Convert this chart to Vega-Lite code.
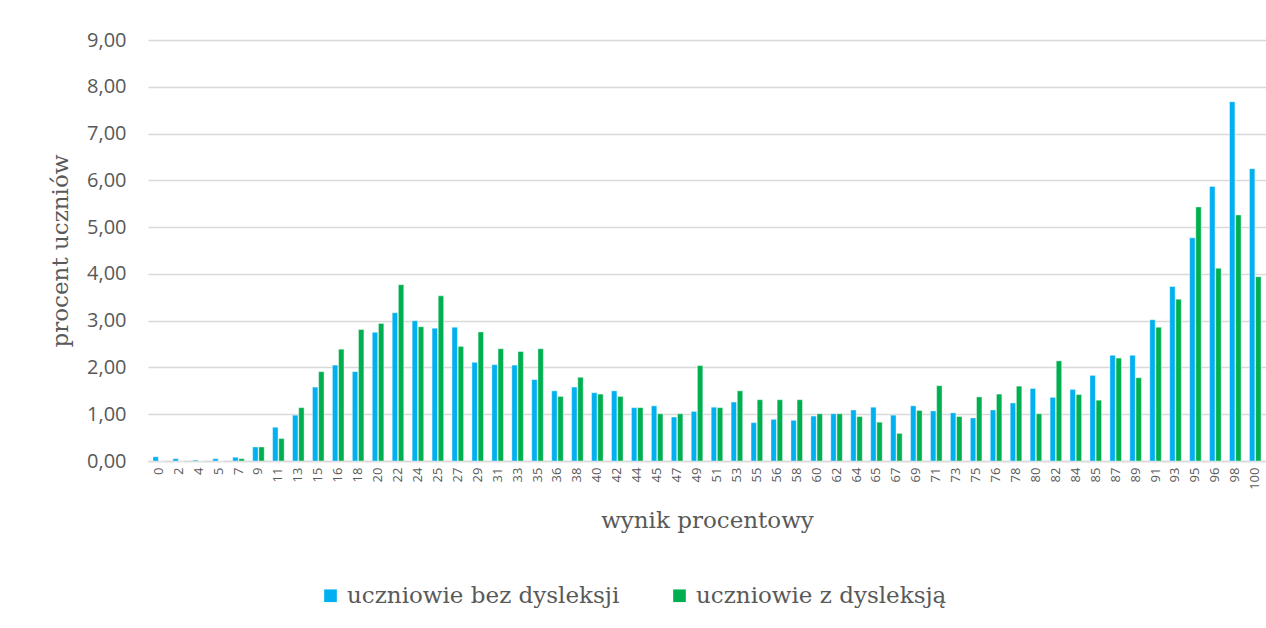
{
  "$schema": "https://vega.github.io/schema/vega-lite/v6.json",
  "autosize": "none",
  "width": 1118,
  "height": 421,
  "padding": {"left": 148, "top": 40, "right": 0, "bottom": 167},
  "background": "white",
  "data": {"values": [
    {"w":0,"b":0.09,"g":0},{"w":2,"b":0.05,"g":0},{"w":4,"b":0.02,"g":0},{"w":5,"b":0.05,"g":0},
    {"w":7,"b":0.08,"g":0.05},{"w":9,"b":0.30,"g":0.30},{"w":11,"b":0.72,"g":0.48},{"w":13,"b":0.98,"g":1.14},
    {"w":15,"b":1.58,"g":1.91},{"w":16,"b":2.05,"g":2.39},{"w":18,"b":1.91,"g":2.81},{"w":20,"b":2.75,"g":2.94},
    {"w":22,"b":3.17,"g":3.77},{"w":24,"b":3.00,"g":2.87},{"w":25,"b":2.84,"g":3.53},{"w":27,"b":2.86,"g":2.45},
    {"w":29,"b":2.11,"g":2.76},{"w":31,"b":2.06,"g":2.40},{"w":33,"b":2.05,"g":2.34},{"w":35,"b":1.74,"g":2.40},
    {"w":36,"b":1.50,"g":1.38},{"w":38,"b":1.58,"g":1.79},{"w":40,"b":1.46,"g":1.43},{"w":42,"b":1.50,"g":1.38},
    {"w":44,"b":1.14,"g":1.14},{"w":45,"b":1.18,"g":1.01},{"w":47,"b":0.94,"g":1.01},{"w":49,"b":1.06,"g":2.04},
    {"w":51,"b":1.15,"g":1.14},{"w":53,"b":1.26,"g":1.50},{"w":55,"b":0.82,"g":1.31},{"w":56,"b":0.89,"g":1.31},
    {"w":58,"b":0.87,"g":1.31},{"w":60,"b":0.96,"g":1.01},{"w":62,"b":1.01,"g":1.01},{"w":64,"b":1.09,"g":0.95},
    {"w":65,"b":1.15,"g":0.83},{"w":67,"b":0.98,"g":0.59},{"w":69,"b":1.18,"g":1.08},{"w":71,"b":1.07,"g":1.61},
    {"w":73,"b":1.03,"g":0.95},{"w":75,"b":0.92,"g":1.37},{"w":76,"b":1.09,"g":1.43},{"w":78,"b":1.24,"g":1.60},
    {"w":80,"b":1.55,"g":1.01},{"w":82,"b":1.36,"g":2.14},{"w":84,"b":1.53,"g":1.42},{"w":85,"b":1.83,"g":1.30},
    {"w":87,"b":2.26,"g":2.20},{"w":89,"b":2.26,"g":1.78},{"w":91,"b":3.02,"g":2.86},{"w":93,"b":3.73,"g":3.46},
    {"w":95,"b":4.77,"g":5.43},{"w":96,"b":5.87,"g":4.12},{"w":98,"b":7.68,"g":5.26},{"w":100,"b":6.25,"g":3.94}
  ]},
  "transform": [
    {"fold": ["b", "g"], "as": ["k", "procent"]},
    {"lookup": "k", "from": {"data": {"values": [
      {"k": "b", "grupa": "uczniowie bez dysleksji"},
      {"k": "g", "grupa": "uczniowie z dysleksją"}
    ]}, "key": "k", "fields": ["grupa"]}}
  ],
  "mark": {"type": "bar", "stroke": "white", "strokeWidth": 0.4},
  "encoding": {
    "x": {
      "field": "w", "type": "ordinal",
      "scale": {"paddingInner": 0.42, "paddingOuter": 0.25},
      "axis": {
        "title": "wynik procentowy",
        "titleFont": "DejaVu Serif", "titleFontSize": 23, "titleFontWeight": "normal", "titleColor": "#595959",
        "titlePadding": 20,
        "labelAngle": -90, "labelFont": "Open Sans", "labelFontSize": 13, "labelColor": "#595959",
        "labelPadding": 6, "ticks": false,
        "domainColor": "#d9d9d9", "domainWidth": 1.5
      }
    },
    "xOffset": {"field": "grupa", "type": "nominal", "scale": {"paddingInner": 0.12}},
    "y": {
      "field": "procent", "type": "quantitative",
      "scale": {"domain": [0, 9]},
      "axis": {
        "title": "procent uczniów",
        "titleFont": "DejaVu Serif", "titleFontSize": 23, "titleFontWeight": "normal", "titleColor": "#595959",
        "titlePadding": 14,
        "values": [0,1,2,3,4,5,6,7,8,9],
        "labelExpr": "replace(format(datum.value, '.2f'), '.', ',')",
        "labelFont": "Open Sans", "labelFontSize": 20, "labelColor": "#595959", "labelPadding": 22,
        "ticks": false, "domain": false,
        "gridColor": "#d9d9d9", "gridWidth": 1.5
      }
    },
    "color": {
      "field": "grupa", "type": "nominal",
      "scale": {"domain": ["uczniowie bez dysleksji", "uczniowie z dysleksją"], "range": ["#00B0F0", "#00B050"]},
      "legend": {
        "title": null, "orient": "none", "direction": "horizontal",
        "legendX": 171, "legendY": 544,
        "symbolType": "square", "symbolSize": 160, "symbolStrokeWidth": 0,
        "labelFont": "DejaVu Serif", "labelFontSize": 23, "labelColor": "#595959",
        "labelOffset": 5, "columnPadding": 48, "labelLimit": 400
      }
    }
  },
  "config": {"view": {"stroke": null}}
}
